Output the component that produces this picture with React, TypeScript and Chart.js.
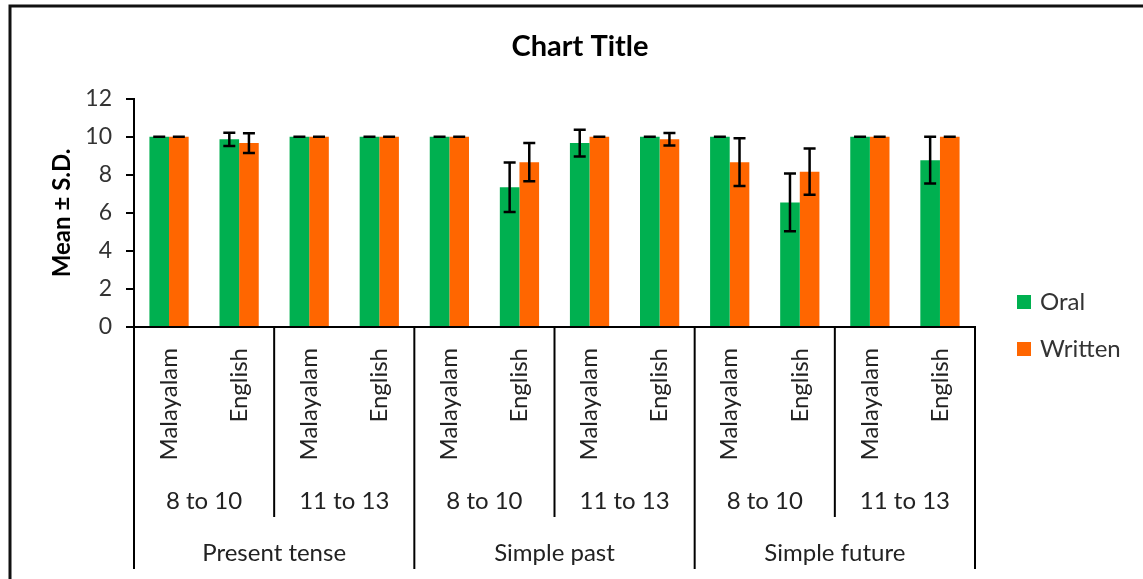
import React, { useEffect, useRef } from 'react';
import { Chart, registerables } from 'chart.js';

Chart.register(...registerables);

// ---- data ----
const tenses = ['Present tense', 'Simple past', 'Simple future'];
const ageGroups = ['8 to 10', '11 to 13'];
const languages = ['Malayalam', 'English'];

const oralMean = [10, 9.87, 10, 10, 10, 7.35, 9.67, 10, 10, 6.55, 10, 8.77];
const oralSD = [0, 0.35, 0, 0, 0, 1.3, 0.7, 0, 0, 1.52, 0, 1.23];
const writtenMean = [10, 9.67, 10, 10, 10, 8.67, 10, 9.87, 8.67, 8.17, 10, 10];
const writtenSD = [0, 0.52, 0, 0, 0, 1.0, 0, 0.33, 1.26, 1.22, 0, 0];

const seriesNames = ['Oral', 'Written'];
const seriesColors = ['#00B050', '#FF6600'];
const yMin = 0;
const yMax = 12;
const yStep = 2;

const categoryLabels: string[] = [];
tenses.forEach(() => ageGroups.forEach(() => languages.forEach((l) => categoryLabels.push(l))));

const FONT = 'Lato, "Open Sans", sans-serif';
const sdSets = [oralSD, writtenSD];

const decorPlugin = {
  id: 'decor',
  beforeDraw(chart: any) {
    const ctx = chart.ctx;
    ctx.save();
    ctx.fillStyle = '#ffffff';
    ctx.fillRect(0, 0, chart.width, chart.height);
    ctx.restore();
  },
  afterDatasetsDraw(chart: any) {
    const ctx = chart.ctx;
    const ys = chart.scales.y;
    ctx.save();
    ctx.strokeStyle = '#000';
    ctx.lineWidth = 2.5;
    chart.data.datasets.forEach((ds: any, di: number) => {
      const meta = chart.getDatasetMeta(di);
      meta.data.forEach((bar: any, i: number) => {
        const m = ds.data[i];
        const sd = sdSets[di][i];
        const yt = ys.getPixelForValue(m + sd);
        const yb = ys.getPixelForValue(m - sd);
        const cap = 6;
        ctx.beginPath();
        ctx.moveTo(bar.x, yt);
        ctx.lineTo(bar.x, yb);
        ctx.moveTo(bar.x - cap, yt);
        ctx.lineTo(bar.x + cap, yt);
        ctx.moveTo(bar.x - cap, yb);
        ctx.lineTo(bar.x + cap, yb);
        ctx.stroke();
      });
    });
    ctx.restore();
  },
  afterDraw(chart: any) {
    const ctx = chart.ctx;
    const xs = chart.scales.x;
    const area = chart.chartArea;
    const n = categoryLabels.length;
    const bx = (b: number) =>
      b <= 0 ? area.left : b >= n ? area.right : (xs.getPixelForValue(b - 1) + xs.getPixelForValue(b)) / 2;
    const perTense = ageGroups.length * languages.length;
    ctx.save();
    ctx.strokeStyle = '#000';
    ctx.lineWidth = 2;
    // separators
    for (let t = 0; t <= tenses.length; t++) {
      const x = bx(t * perTense);
      ctx.beginPath();
      ctx.moveTo(x, area.bottom);
      ctx.lineTo(x, area.bottom + 242);
      ctx.stroke();
    }
    for (let t = 0; t < tenses.length; t++) {
      for (let g = 1; g < ageGroups.length; g++) {
        const x = bx(t * perTense + g * languages.length);
        ctx.beginPath();
        ctx.moveTo(x, area.bottom);
        ctx.lineTo(x, area.bottom + 190);
        ctx.stroke();
      }
    }
    // level labels
    ctx.fillStyle = '#222';
    ctx.textAlign = 'center';
    ctx.textBaseline = 'middle';
    ctx.font = `24px ${FONT}`;
    tenses.forEach((_, t) => {
      ageGroups.forEach((age, g) => {
        const b0 = t * perTense + g * languages.length;
        const cx = (bx(b0) + bx(b0 + languages.length)) / 2;
        ctx.fillText(age, cx, area.bottom + 174);
      });
      const cx = (bx(t * perTense) + bx((t + 1) * perTense)) / 2;
      ctx.fillText(tenses[t], cx, area.bottom + 226);
    });
    // legend
    ctx.textAlign = 'left';
    chart.data.datasets.forEach((ds: any, di: number) => {
      const cy = 302 + di * 47;
      ctx.fillStyle = ds.backgroundColor;
      ctx.fillRect(1017, cy - 7, 14, 14);
      ctx.fillStyle = '#333';
      ctx.fillText(ds.label, 1040, cy);
    });
    // frame
    ctx.strokeStyle = '#111';
    ctx.lineWidth = 3;
    ctx.beginPath();
    ctx.moveTo(10, chart.height);
    ctx.lineTo(10, 6);
    ctx.lineTo(chart.width, 6);
    ctx.stroke();
    ctx.restore();
  },
};

export default function App() {
  const ref = useRef<HTMLCanvasElement | null>(null);
  useEffect(() => {
    if (!ref.current) return;
    const chart = new Chart(ref.current, {
      type: 'bar',
      data: {
        labels: categoryLabels,
        datasets: [
          { label: seriesNames[0], data: oralMean, backgroundColor: seriesColors[0], borderWidth: 0 },
          { label: seriesNames[1], data: writtenMean, backgroundColor: seriesColors[1], borderWidth: 0 },
        ],
      },
      options: {
        responsive: false,
        animation: false,
        devicePixelRatio: 1,
        layout: { padding: { left: 43.6, right: 26.6, top: 0, bottom: 0 } },
        datasets: { bar: { categoryPercentage: 0.56, barPercentage: 1 } },
        plugins: {
          legend: { display: false },
          tooltip: { enabled: false },
          title: {
            display: true,
            text: 'Chart Title',
            color: '#000',
            font: { family: FONT, size: 29, weight: 'bold' },
            padding: { top: 29, bottom: 35 },
          },
        },
        scales: {
          x: {
            type: 'category',
            offset: true,
            grid: { display: false },
            border: { display: true, color: '#000', width: 2 },
            ticks: {
              autoSkip: false,
              minRotation: 90,
              maxRotation: 90,
              padding: 13,
              color: '#222',
              font: { family: FONT, size: 24 },
            },
            afterFit: (s: any) => {
              s.height = 252;
            },
          },
          y: {
            min: yMin,
            max: yMax,
            ticks: { stepSize: yStep, padding: 14, color: '#333', font: { family: FONT, size: 23 } },
            grid: { display: true, drawOnChartArea: false, drawTicks: true, tickLength: 8, color: '#000', lineWidth: 2 },
            border: { display: true, color: '#000', width: 2 },
            title: {
              display: true,
              text: 'Mean ± S.D.',
              color: '#000',
              font: { family: FONT, size: 24, weight: 'bold' },
              padding: { top: 4, bottom: 0 },
            },
            afterFit: (s: any) => {
              s.width = 90.4;
            },
          },
          legendSpace: {
            type: 'linear',
            position: 'right',
            display: true,
            grid: { display: false },
            border: { display: false },
            ticks: { display: false },
            afterFit: (s: any) => {
              s.width = 141.4;
            },
          },
        },
      },
      plugins: [decorPlugin],
    } as any);
    return () => chart.destroy();
  }, []);
  return (
    <div style={{ position: 'fixed', left: 0, top: 0, width: 1143, height: 579 }}>
      <canvas ref={ref} width={1143} height={579} style={{ display: 'block' }} />
    </div>
  );
}
